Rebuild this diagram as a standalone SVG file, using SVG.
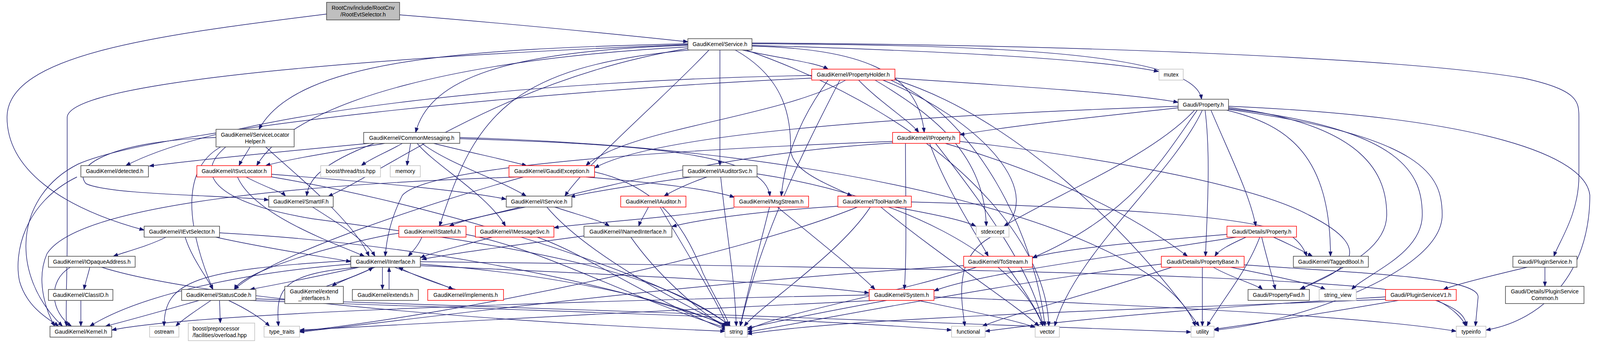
<svg xmlns="http://www.w3.org/2000/svg" width="4101" height="878" viewBox="0 0 4101 878">
<style>
.n rect{fill:#fff;stroke-width:1.5}
.k rect{stroke:#404040}
.r rect{stroke:#ff0000}
.g rect{stroke:#bfbfbf}
.root rect{fill:#bfbfbf;stroke:#404040}
text{font-family:"Liberation Sans",Arial,sans-serif;font-size:14px;fill:#000;text-anchor:middle}
.l text{text-anchor:start}
#edges path{fill:none;stroke:#191970;stroke-width:1.4;marker-end:url(#a)}
</style>
<defs>
<marker id="a" markerUnits="userSpaceOnUse" markerWidth="14" markerHeight="10" refX="12" refY="4.5" orient="auto">
<path d="M0,0 L12,4.5 L0,9 z" fill="#191970" stroke="#191970" stroke-width="1"/>
</marker>
</defs>
<rect x="0" y="0" width="4101" height="878" fill="#fff"/>
<g id="edges">
<path d="M1023,38 C1300,60 1600,90 1761,107"/>
<path d="M836,36 C400,90 18,140 18,300 C18,430 150,530 369,589"/>
<path d="M1761,112 C1200,125 760,150 663,331"/>
<path d="M1761,116 C1300,130 1100,200 1064,339"/>
<path d="M1761,120 C1200,150 760,250 657,424"/>
<path d="M1761,124 C1300,200 1000,430 840,503"/>
<path d="M1765,128 C1300,170 1215,300 1125,579"/>
<path d="M1815,128 C1700,250 1500,420 1446,502"/>
<path d="M1843,128 L1843,424"/>
<path d="M1900,128 C2000,150 2090,160 2120,177"/>
<path d="M1925,112 C2600,115 3060,140 3076,254"/>
<path d="M1925,118 C2200,125 2350,180 2366,339"/>
<path d="M1882,128 C2010,200 2024,300 2024,380 C2024,440 2120,470 2181,502"/>
<path d="M1925,116 C2400,130 2800,150 2966,183"/>
<path d="M1925,110 C2800,115 3600,150 3900,200 C4040,230 4042,260 4042,300 L4042,450 C4042,550 3990,620 3978,656"/>
<path d="M1910,128 C2400,300 2680,600 2685,835"/>
<path d="M1761,114 C1100,140 180,200 172,300 L172,600 C172,700 168,780 170,835"/>
<path d="M640,376 C630,395 618,410 612,424"/>
<path d="M553,352 C300,360 180,420 220,470 C280,500 600,500 688,512"/>
<path d="M565,376 C470,430 470,560 545,741"/>
<path d="M680,376 C760,450 900,560 945,656"/>
<path d="M578,376 C490,450 560,520 800,560 C1400,640 1700,700 1870,835"/>
<path d="M945,367 C700,390 500,410 382,425"/>
<path d="M985,367 C850,390 750,405 680,424"/>
<path d="M1030,367 C990,390 950,405 925,424"/>
<path d="M1051,367 C1048,390 1044,405 1042,424"/>
<path d="M1110,367 C1200,390 1300,410 1348,424"/>
<path d="M1080,367 C1150,420 1280,460 1347,502"/>
<path d="M1068,367 C1110,420 1250,500 1294,579"/>
<path d="M1177,355 C1700,370 1960,400 1971,502"/>
<path d="M958,367 C820,420 790,460 785,502"/>
<path d="M1177,352 C2200,380 2980,600 3060,835"/>
<path d="M2291,200 C2600,220 2900,240 3016,262"/>
<path d="M2198,205 C2250,260 2330,310 2352,339"/>
<path d="M2078,193 C1400,205 600,280 322,424"/>
<path d="M2078,200 C1400,230 400,330 200,420 C40,500 20,700 160,835"/>
<path d="M2165,205 C2000,300 1600,330 1500,424"/>
<path d="M2240,205 C2400,300 2520,400 2525,579"/>
<path d="M2260,205 C2500,300 2700,500 2550,600 C2440,650 2460,760 2470,835"/>
<path d="M2280,205 C2500,300 2650,600 2675,835"/>
<path d="M2291,204 C2600,300 2900,600 3070,835"/>
<path d="M2150,205 C2050,400 1950,600 1895,835"/>
<path d="M2120,205 C2050,300 2010,400 2000,502"/>
<path d="M3100,282 C3150,400 3200,500 3215,579"/>
<path d="M3085,282 C3100,400 3090,550 3086,656"/>
<path d="M3145,275 C3500,320 3550,450 3550,550 C3550,650 3400,700 3330,741"/>
<path d="M3140,282 C3300,320 3406,400 3406,656"/>
<path d="M3145,278 C3600,330 3641,450 3641,550 C3641,650 3500,700 3460,741"/>
<path d="M3145,280 C3650,350 3692,450 3692,550 C3692,700 3300,830 3108,845"/>
<path d="M3145,272 C3800,300 4060,400 4070,500 C4070,700 3950,820 3804,845"/>
<path d="M3065,282 C2980,400 2900,550 2643,660"/>
<path d="M3058,282 C2950,400 2700,500 2570,579"/>
<path d="M3078,282 C3000,450 2750,650 2700,835"/>
<path d="M3016,276 C2800,300 2600,320 2457,345"/>
<path d="M3016,272 C2500,290 1700,330 1522,430"/>
<path d="M2285,362 C1800,380 1100,420 1030,500 C1000,560 990,610 986,656"/>
<path d="M2285,366 C1700,400 1300,560 1000,600 C800,640 620,700 600,741"/>
<path d="M2318,367 C2318,500 2322,650 2315,741"/>
<path d="M2380,367 C2420,480 2500,600 2530,656"/>
<path d="M2395,367 C2500,500 2650,700 2670,835"/>
<path d="M2420,367 C2700,450 2900,550 3040,656"/>
<path d="M2457,362 C2800,400 3200,470 3350,550 C3550,650 3420,700 3327,741"/>
<path d="M197,453 C60,520 35,650 50,720 C70,790 130,820 150,835"/>
<path d="M608,453 C650,550 850,620 933,656"/>
<path d="M630,453 C680,480 720,490 731,502"/>
<path d="M695,446 C1000,470 1200,490 1296,510"/>
<path d="M690,452 C1100,520 1700,700 1870,835"/>
<path d="M1330,453 C800,470 200,520 120,650 C90,720 120,800 140,835"/>
<path d="M1340,453 C1100,520 700,650 600,741"/>
<path d="M1500,453 C1700,470 1820,485 1880,505"/>
<path d="M1522,440 C1700,480 1760,600 1800,700 C1840,780 1860,810 1868,835"/>
<path d="M1770,453 C1650,470 1520,490 1460,504"/>
<path d="M1810,453 C1760,470 1720,490 1700,502"/>
<path d="M1845,453 C1860,600 1880,700 1885,835"/>
<path d="M1938,445 C2300,500 2600,650 2670,835"/>
<path d="M800,530 C880,580 940,620 960,656"/>
<path d="M1420,530 C1480,550 1540,565 1560,579"/>
<path d="M1345,530 C1250,550 1180,565 1150,579"/>
<path d="M1400,530 C1500,650 1750,780 1862,835"/>
<path d="M1660,530 C1650,550 1640,565 1635,579"/>
<path d="M1690,530 C1760,650 1830,760 1862,835"/>
<path d="M1879,532 C1700,560 1500,570 1418,583"/>
<path d="M1970,530 C1940,650 1910,760 1895,835"/>
<path d="M1990,530 C2100,620 2200,700 2240,741"/>
<path d="M2145,528 C1950,540 1800,560 1720,580"/>
<path d="M2290,530 C2400,550 2470,565 2498,579"/>
<path d="M2255,530 C2400,650 2600,780 2660,835"/>
<path d="M2333,517 C2800,530 3200,550 3300,600 C3330,620 3340,640 3345,656"/>
<path d="M2228,530 C2150,650 1950,780 1905,835"/>
<path d="M2195,530 C1900,650 1200,800 767,848"/>
<path d="M425,607 C380,630 320,645 290,656"/>
<path d="M474,607 C490,660 530,710 545,741"/>
<path d="M552,607 C700,640 850,660 898,670"/>
<path d="M562,596 C1000,620 1500,700 1870,835"/>
<path d="M1080,607 C1070,630 1055,645 1045,656"/>
<path d="M1193,600 C1400,640 1600,760 1862,840"/>
<path d="M1260,607 C1180,630 1110,645 1076,660"/>
<path d="M1375,607 C1500,650 1650,760 1860,845"/>
<path d="M1495,604 C1300,630 1150,650 1080,664"/>
<path d="M1615,607 C1680,700 1780,790 1860,840"/>
<path d="M3190,607 C3150,625 3120,640 3110,656"/>
<path d="M3260,607 C3300,625 3340,645 3360,656"/>
<path d="M3230,607 C3240,650 3255,700 3265,741"/>
<path d="M3225,607 C3190,700 3120,780 3090,835"/>
<path d="M3141,600 C2900,620 2700,640 2643,660"/>
<path d="M3165,607 C2900,650 2500,700 2391,745"/>
<path d="M230,684 C225,705 218,725 215,741"/>
<path d="M180,684 C120,720 130,800 183,835"/>
<path d="M260,684 C500,760 1200,820 1856,848"/>
<path d="M898,676 C600,700 350,760 230,835"/>
<path d="M898,667 C500,690 420,720 420,835"/>
<path d="M920,684 C800,710 700,730 640,741"/>
<path d="M920,684 C720,700 705,740 713,835"/>
<path d="M960,684 C900,710 860,725 850,733"/>
<path d="M979,684 L979,741"/>
<path d="M996,741 L996,684"/>
<path d="M1010,684 C1080,710 1140,730 1160,741"/>
<path d="M1167,741 C1100,720 1050,700 1020,684"/>
<path d="M835,733 C900,710 940,695 955,684"/>
<path d="M1076,680 C1500,700 2000,720 2225,750"/>
<path d="M1076,676 C1400,700 1700,760 1860,835"/>
<path d="M1076,670 C2000,680 3500,700 3650,760 C3740,790 3750,810 3755,835"/>
<path d="M2500,684 C2300,750 2000,800 1913,845"/>
<path d="M2580,684 C2620,740 2660,800 2670,835"/>
<path d="M2467,680 C1800,720 1200,800 767,850"/>
<path d="M3150,684 C3280,710 3370,730 3393,741"/>
<path d="M3106,684 C3150,710 3220,730 3232,741"/>
<path d="M3078,684 L3078,835"/>
<path d="M3185,678 C3500,700 3784,710 3784,760 L3777,835"/>
<path d="M2973,676 C2600,720 2200,800 1913,850"/>
<path d="M3000,684 C2800,750 2600,800 2515,835"/>
<path d="M3910,684 C3800,710 3720,730 3695,741"/>
<path d="M3955,684 L3955,733"/>
<path d="M207,769 L207,835"/>
<path d="M510,769 C400,800 330,820 270,835"/>
<path d="M540,769 C510,790 470,815 450,835"/>
<path d="M562,769 L564,827"/>
<path d="M585,769 C630,790 670,815 690,835"/>
<path d="M640,769 C1200,790 2000,810 2436,845"/>
<path d="M655,765 C1400,790 2600,830 3049,850"/>
<path d="M2225,755 C1500,770 500,800 286,845"/>
<path d="M2240,769 C1800,790 1200,820 767,845"/>
<path d="M2270,769 C2100,800 1980,825 1913,840"/>
<path d="M2350,769 C2500,800 2600,820 2650,838"/>
<path d="M2391,760 C2900,780 3500,810 3728,848"/>
<path d="M3547,766 C3000,790 2200,810 1913,855"/>
<path d="M3580,769 C3400,800 3200,830 3108,843"/>
<path d="M3680,769 C3720,790 3745,815 3752,835"/>
<path d="M3547,760 C3200,780 2800,810 2522,848"/>
</g>
<g id="node-root" class="n root"><rect x="836" y="6" width="187" height="45"/><text x="929.5" y="25">RootCnv/include/RootCnv</text><text x="929.5" y="42">/RootEvtSelector.h</text></g>
<g id="node-service" class="n k"><rect x="1761" y="99" width="164" height="29"/><text x="1843" y="118">GaudiKernel/Service.h</text></g>
<g id="node-propertyholder" class="n r"><rect x="2078" y="177" width="213" height="28"/><text x="2184.5" y="196">GaudiKernel/PropertyHolder.h</text></g>
<g id="node-mutex" class="n g"><rect x="2967" y="177" width="62" height="28"/><text x="2998" y="196">mutex</text></g>
<g id="node-property" class="n k"><rect x="3016" y="254" width="129" height="28"/><text x="3080.5" y="273">Gaudi/Property.h</text></g>
<g id="node-servicelocatorhelper" class="n k"><rect x="553" y="331" width="200" height="45"/><text x="653" y="350">GaudiKernel/ServiceLocator</text><text x="653" y="367">Helper.h</text></g>
<g id="node-commonmessaging" class="n k"><rect x="931" y="339" width="246" height="28"/><text x="1054" y="358">GaudiKernel/CommonMessaging.h</text></g>
<g id="node-iproperty" class="n r"><rect x="2285" y="339" width="172" height="28"/><text x="2371" y="358">GaudiKernel/IProperty.h</text></g>
<g id="node-detected" class="n k"><rect x="207" y="424" width="173" height="29"/><text x="293.5" y="443">GaudiKernel/detected.h</text></g>
<g id="node-isvclocator" class="n r"><rect x="504" y="424" width="191" height="29"/><text x="599.5" y="443">GaudiKernel/ISvcLocator.h</text></g>
<g id="node-boosttss" class="n g"><rect x="821" y="424" width="153" height="29"/><text x="897.5" y="443">boost/thread/tss.hpp</text></g>
<g id="node-memory" class="n g"><rect x="999" y="424" width="77" height="29"/><text x="1037.5" y="443">memory</text></g>
<g id="node-gaudiexception" class="n r"><rect x="1303" y="424" width="219" height="29"/><text x="1412.5" y="443">GaudiKernel/GaudiException.h</text></g>
<g id="node-iauditorsvc" class="n k"><rect x="1748" y="424" width="190" height="29"/><text x="1843" y="443">GaudiKernel/IAuditorSvc.h</text></g>
<g id="node-smartif" class="n k"><rect x="688" y="502" width="165" height="28"/><text x="770.5" y="521">GaudiKernel/SmartIF.h</text></g>
<g id="node-iservice" class="n k"><rect x="1296" y="502" width="168" height="28"/><text x="1380" y="521">GaudiKernel/IService.h</text></g>
<g id="node-iauditor" class="n r"><rect x="1589" y="502" width="167" height="28"/><text x="1672.5" y="521">GaudiKernel/IAuditor.h</text></g>
<g id="node-msgstream" class="n r"><rect x="1879" y="502" width="191" height="28"/><text x="1974.5" y="521">GaudiKernel/MsgStream.h</text></g>
<g id="node-toolhandle" class="n r"><rect x="2145" y="502" width="188" height="28"/><text x="2239" y="521">GaudiKernel/ToolHandle.h</text></g>
<g id="node-ievtselector" class="n k"><rect x="369" y="579" width="193" height="28"/><text x="465.5" y="598">GaudiKernel/IEvtSelector.h</text></g>
<g id="node-istateful" class="n r"><rect x="1021" y="579" width="172" height="28"/><text x="1107" y="598">GaudiKernel/IStateful.h</text></g>
<g id="node-imessagesvc" class="n r"><rect x="1217" y="579" width="201" height="28"/><text x="1317.5" y="598">GaudiKernel/IMessageSvc.h</text></g>
<g id="node-inamedinterface" class="n k"><rect x="1495" y="579" width="225" height="28"/><text x="1607.5" y="598">GaudiKernel/INamedInterface.h</text></g>
<g id="node-stdexcept" class="n g"><rect x="2499" y="579" width="84" height="28"/><text x="2541" y="598">stdexcept</text></g>
<g id="node-detailsproperty" class="n r"><rect x="3141" y="579" width="178" height="28"/><text x="3230" y="598">Gaudi/Details/Property.h</text></g>
<g id="node-iopaqueaddress" class="n k"><rect x="124" y="656" width="222" height="28"/><text x="235" y="675">GaudiKernel/IOpaqueAddress.h</text></g>
<g id="node-iinterface" class="n k"><rect x="898" y="656" width="178" height="28"/><text x="987" y="675">GaudiKernel/IInterface.h</text></g>
<g id="node-tostream" class="n r"><rect x="2467" y="656" width="176" height="28"/><text x="2555" y="675">GaudiKernel/ToStream.h</text></g>
<g id="node-propertybase" class="n r"><rect x="2973" y="656" width="212" height="28"/><text x="3079" y="675">Gaudi/Details/PropertyBase.h</text></g>
<g id="node-taggedbool" class="n k"><rect x="3311" y="656" width="192" height="28"/><text x="3407" y="675">GaudiKernel/TaggedBool.h</text></g>
<g id="node-pluginservice" class="n k"><rect x="3873" y="656" width="164" height="28"/><text x="3955" y="675">Gaudi/PluginService.h</text></g>
<g id="node-classid" class="n k"><rect x="124" y="741" width="165" height="28"/><text x="206.5" y="760">GaudiKernel/ClassID.h</text></g>
<g id="node-statuscode" class="n k"><rect x="465" y="741" width="190" height="28"/><text x="560" y="760">GaudiKernel/StatusCode.h</text></g>
<g id="node-extendinterfaces" class="n k"><rect x="729" y="733" width="150" height="44"/><text x="804" y="751">GaudiKernel/extend</text><text x="804" y="768">_interfaces.h</text></g>
<g id="node-extends" class="n k"><rect x="902" y="741" width="169" height="28"/><text x="986.5" y="760">GaudiKernel/extends.h</text></g>
<g id="node-implements" class="n r"><rect x="1095" y="741" width="194" height="28"/><text x="1192" y="760">GaudiKernel/implements.h</text></g>
<g id="node-system" class="n r"><rect x="2225" y="741" width="166" height="28"/><text x="2308" y="760">GaudiKernel/System.h</text></g>
<g id="node-propertyfwd" class="n k"><rect x="3195" y="741" width="157" height="28"/><text x="3273.5" y="760">Gaudi/PropertyFwd.h</text></g>
<g id="node-stringview" class="n g"><rect x="3377" y="741" width="95" height="28"/><text x="3424.5" y="760">string_view</text></g>
<g id="node-pluginservicev1" class="n r"><rect x="3547" y="741" width="181" height="28"/><text x="3637.5" y="760">Gaudi/PluginServiceV1.h</text></g>
<g id="node-pluginservicecommon" class="n k"><rect x="3854" y="733" width="201" height="44"/><text x="3954.5" y="751">Gaudi/Details/PluginService</text><text x="3954.5" y="768">Common.h</text></g>
<g id="node-kernel" class="n k"><rect x="128" y="835" width="158" height="28"/><text x="207" y="854">GaudiKernel/Kernel.h</text></g>
<g id="node-ostream" class="n g"><rect x="383" y="835" width="75" height="28"/><text x="420.5" y="854">ostream</text></g>
<g id="node-boostpp" class="n g l"><rect x="482" y="827" width="170" height="45"/><text x="493" y="846">boost/preprocessor</text><text x="493" y="863">/facilities/overload.hpp</text></g>
<g id="node-typetraits" class="n g"><rect x="676" y="835" width="91" height="28"/><text x="721.5" y="854">type_traits</text></g>
<g id="node-string" class="n g"><rect x="1856" y="835" width="57" height="28"/><text x="1884.5" y="854">string</text></g>
<g id="node-functional" class="n g"><rect x="2436" y="835" width="86" height="28"/><text x="2479" y="854">functional</text></g>
<g id="node-vector" class="n g"><rect x="2650" y="835" width="62" height="28"/><text x="2681" y="854">vector</text></g>
<g id="node-utility" class="n g"><rect x="3049" y="835" width="59" height="28"/><text x="3078.5" y="854">utility</text></g>
<g id="node-typeinfo" class="n g"><rect x="3728" y="835" width="76" height="28"/><text x="3766" y="854">typeinfo</text></g>
</svg>
